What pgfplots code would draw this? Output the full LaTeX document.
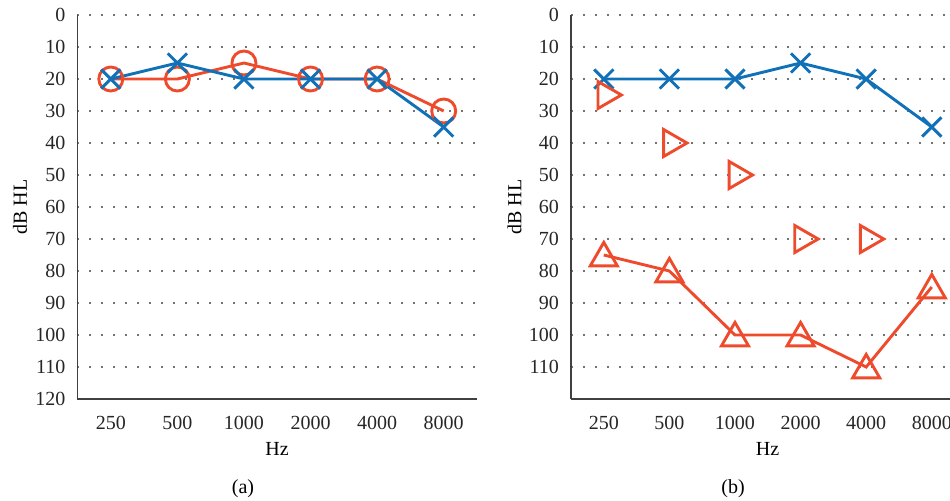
\documentclass[border=0pt]{standalone}
\usepackage{fontspec}
\setmainfont{Liberation Serif}
\usepackage{pgfplots}
\pgfplotsset{compat=1.18}
\definecolor{myblue}{HTML}{1071B8}
\definecolor{myred}{HTML}{EE4A2C}
\definecolor{axgray}{HTML}{404040}
\pgfplotsset{audio/.style={
  scale only axis,
  y dir=reverse, ymin=0, ymax=120,
  xmin=-0.5, xmax=5.5,
  xtick={0,...,5}, xticklabels={250,500,1000,2000,4000,8000},
  axis x line=bottom, axis y line=left,
  axis line style={-, axgray, line width=0.8pt},
  major tick length=0pt,
  ymajorgrids,
  grid style={black!55, line width=0.8pt, dash pattern=on 0.8pt off 5.2pt},
  tick label style={font=\fontsize{10}{12}\selectfont, text=black!85},
  yticklabel style={xshift=-2.5pt},
  xticklabel style={yshift=-5pt},
  /pgf/number format/assume math mode=true,
  clip=false,
}}
\begin{document}
\begin{tikzpicture}
\path[use as bounding box] (0pt,0pt) rectangle (475pt,250pt);
\begin{axis}[audio, name=A, at={(38.75pt,50.5pt)}, anchor=south west,
  width=199.75pt, height=192pt, ytick={0,10,...,120}]
\addplot[myred, line width=1.45pt, mark=o, mark size=6pt, mark options={solid, fill=white}]
  coordinates {(0,20) (1,20) (2,15) (3,20) (4,20) (5,30)};
\addplot[myblue, line width=1.45pt, mark=x, mark size=6.8pt, mark options={solid}]
  coordinates {(0,20) (1,15) (2,20) (3,20) (4,20) (5,35)};
\end{axis}
\begin{axis}[audio, name=B, at={(285.5pt,50.5pt)}, anchor=south west,
  width=196.8pt, height=192pt, ytick={0,10,...,110}]
\addplot[myblue, line width=1.45pt, mark=x, mark size=6.8pt, mark options={solid}]
  coordinates {(0,20) (1,20) (2,20) (3,15) (4,20) (5,35)};
\addplot[myred, line width=1.45pt, mark=triangle, mark size=7.8pt, mark options={solid, fill=white, yshift=-1.5pt}]
  coordinates {(0,75) (1,80) (2,100) (3,100) (4,110) (5,85)};
\addplot[myred, only marks, line width=1.45pt, mark=triangle, mark size=7.8pt, mark options={solid, fill=white, xshift=1pt, rotate=-90}]
  coordinates {(0,25) (1,40) (2,50) (3,70) (4,70)};
\end{axis}
\node[font=\fontsize{10}{12}\selectfont] at (138.5pt,25.5pt) {Hz};
\node[font=\fontsize{10}{12}\selectfont] at (383.75pt,25.5pt) {Hz};
\node[font=\fontsize{10}{12}\selectfont, rotate=90] at (10pt,146.5pt) {dB HL};
\node[font=\fontsize{10}{12}\selectfont, rotate=90] at (257.25pt,146.5pt) {dB HL};
\node[font=\fontsize{10}{12}\selectfont] at (121.5pt,5.5pt) {(a)};
\node[font=\fontsize{10}{12}\selectfont] at (366.5pt,5.5pt) {(b)};
\end{tikzpicture}
\end{document}
